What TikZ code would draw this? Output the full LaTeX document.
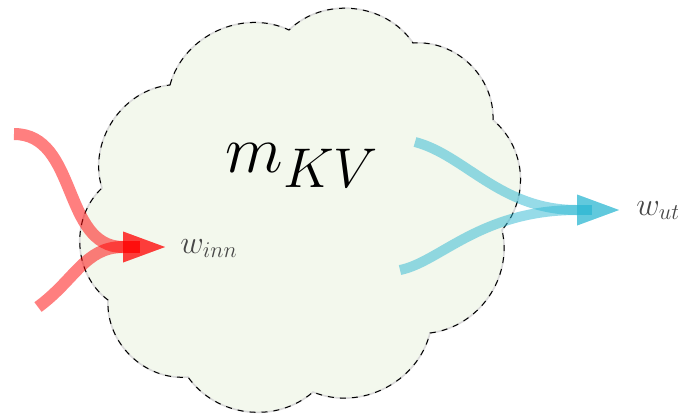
\documentclass[tikz,border=0pt]{standalone}
\usetikzlibrary{arrows.meta}
\definecolor{cloudfill}{RGB}{243,248,237}
\definecolor{inred}{RGB}{255,0,0}
\definecolor{outcyan}{RGB}{45,183,210}
\newcommand\mycloudpath{(170,85) to[bend left=50] (289,30) to[bend left=50] (413,43)
  to[bend left=48] (493,120) to[bend left=45] (502,230) to[bend left=48] (430,333)
  to[bend left=49] (313,392) to[bend left=48] (188,377) to[bend left=49] (108,300)
  to[bend left=50] (102,188) to[bend left=51] (170,85) -- cycle}
\begin{document}
\begin{tikzpicture}[x=0.5pt,y=-0.5pt,
  flowin/.style={draw=inred, opacity=0.5, line width=6pt,
    -{Triangle[length=21pt,width=15.5pt,line width=0pt]}},
  flowout/.style={draw=outcyan, opacity=0.5, line width=5pt,
    -{Triangle[length=21pt,width=15.5pt,line width=0pt]}},
  lab/.style={inner sep=0pt, anchor=base west, text=black!72,
    font=\huge, scale=0.78},
  title/.style={inner sep=0pt, anchor=base west,
    font=\Huge, scale=1.35}]
\useasboundingbox (0,0) rectangle (678,414);
\fill[cloudfill] \mycloudpath;
\draw[black!15, line width=0.8pt] \mycloudpath;
\draw[black, dashed, line width=0.5pt] \mycloudpath;
\node[title] (mkv) at (225,172) {$m_{KV}$};
\coordinate (r1) at (14,134);
\coordinate (r2) at (38,307);
\coordinate (rt) at (165,247);
\coordinate (c1) at (415,142);
\coordinate (c2) at (400,270);
\coordinate (ct) at (619,210);
\node[lab] (wi) at (180,253) {$w_{inn}$};
\node[lab] (wu) at (636,215) {$w_{ut}$};
\draw[flowin] (r1) .. controls (78,134) and (62,247) .. (rt);
\draw[flowin,-] (rt) ++(-42,0) -- ++(17,0);
\draw[flowin] (r2) .. controls (75,280) and (85,247) .. (rt);
\draw[flowin,-] (rt) ++(-42,0) -- ++(17,0);
\draw[flowout] (c1) .. controls (465,155) and (500,210) .. (ct);
\draw[flowout,-] (ct) ++(-42,0) -- ++(15,0);
\draw[flowout] (c2) .. controls (440,262) and (480,210) .. (ct);
\draw[flowout,-] (ct) ++(-42,0) -- ++(15,0);
\end{tikzpicture}
\end{document}
